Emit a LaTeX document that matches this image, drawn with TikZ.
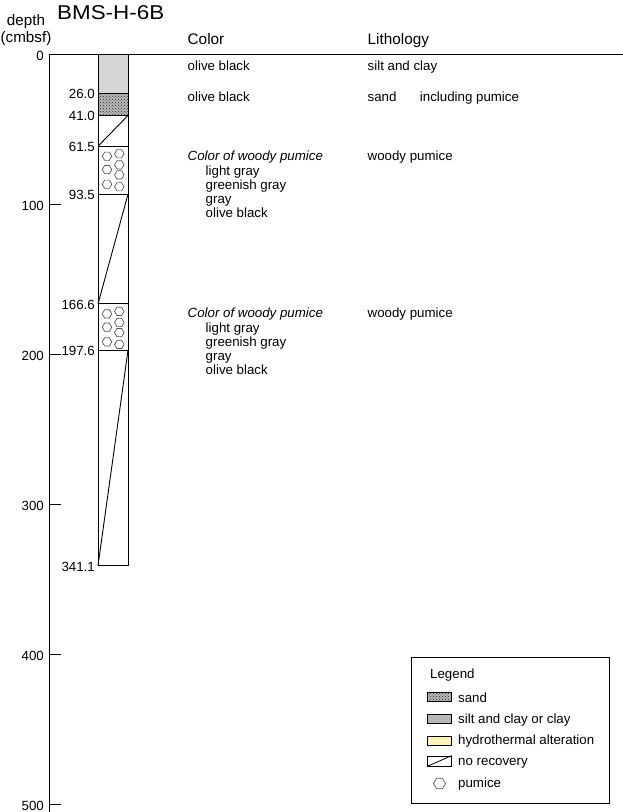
\documentclass[tikz,border=0pt]{standalone}
\usepackage{fontspec}
\setmainfont{Liberation Sans}
\usetikzlibrary{shapes.geometric,patterns,positioning}
\definecolor{siltgray}{RGB}{214,214,214}
\definecolor{sandgray}{RGB}{185,185,185}
\definecolor{hydroyellow}{RGB}{255,244,184}
\definecolor{pumgray}{RGB}{85,85,85}
\newcommand{\dy}[1]{54+1.5*#1}

\begin{document}
\begin{tikzpicture}[x=1pt, y=-1pt,
    txt/.style={inner sep=0pt, anchor=base west, font=\fontsize{13.3}{15}\selectfont},
    hdr/.style={inner sep=0pt, anchor=base west, font=\fontsize{15.3}{17}\selectfont},
    dlab/.style={inner sep=0pt, anchor=east, font=\fontsize{13.3}{15}\selectfont},
    pum/.style={regular polygon, regular polygon sides=6, draw=pumgray,
        line width=0.7pt, minimum size=9.5pt, inner sep=0pt},
    swatch/.style={draw, line width=0.8pt, minimum width=24pt,
        minimum height=9pt, inner sep=0pt, anchor=west},
    sandfill/.style={pattern=crosshatch dots, pattern color=black!85,
        preaction={fill=sandgray}},
]
\useasboundingbox (0,0) rectangle (623,812);

% title and axis caption
\node[inner sep=0pt, anchor=base west,
    font=\fontsize{20}{24}\selectfont\addfontfeatures{FakeStretch=1.12}] (title) at (57,19.5) {BMS-H-6B};
\node[inner sep=0pt, anchor=base, font=\fontsize{15.2}{17}\selectfont] (depthlab) at (26,25.5) {depth};
\node[inner sep=0pt, anchor=base, font=\fontsize{15.2}{17}\selectfont] (unitlab) at (26,42.5) {(cmbsf)};

% depth axis
\draw[line width=1pt] (49.5,54) -- (49.5,812);
\draw[line width=1pt] (49.5,54) -- (623,54);
\foreach \d in {100,200,...,500}
    \draw[line width=0.9pt] (49.5,{\dy{\d}}) -- (60.5,{\dy{\d}});
\foreach \d in {0,100,...,500}
    \node[dlab] (ax\d) at (44,{\dy{\d}+1.5}) {\d};

% column headers
\node[hdr] (colorhdr) at (187.5,44.3) {Color};
\node[hdr] (lithhdr) at (367.5,44.3) {Lithology};

% core column
\fill[siltgray] (98,{\dy{0}}) rectangle (128,{\dy{26}});
\path[sandfill] (98,{\dy{26}}) rectangle (128,{\dy{41}});
\draw[line width=0.9pt] (98,{\dy{61.5}}) -- (128,{\dy{41}});
\draw[line width=0.9pt] (98,{\dy{166.6}}) -- (128,{\dy{93.5}});
\draw[line width=0.9pt] (98,{\dy{341.1}}) -- (128,{\dy{197.6}});
\foreach \d in {26,41,61.5,93.5,166.6,197.6}
    \draw[line width=0.9pt] (98,{\dy{\d}}) -- (128,{\dy{\d}});
\draw[line width=0.9pt] (98,{\dy{0}}) rectangle (128,{\dy{341.1}});

% pumice
\foreach \t/\b in {61.5/a,166.6/b} {
    \foreach \o [count=\i] in {10,23.3,38}
        \node[pum] (pum\b L\i) at (107,{\dy{\t}+\o}) {};
    \foreach \o [count=\i] in {7.5,18.6,28.7,40.5}
        \node[pum] (pum\b R\i) at (119.3,{\dy{\t}+\o}) {};
}

% depth of boundaries
\foreach \d [count=\i] in {26.0,41.0,61.5,93.5,166.6,197.6,341.1}
    \node[dlab] (dep\i) at (95,{\dy{\d}+0.8}) {\d};

% color and lithology
\node[txt] (col1) at (187.5,70) {olive black};
\node[txt] (col2) at (187.5,101) {olive black};
\node[txt] (lith1) at (367.5,70) {silt and clay};
\node[txt] (lith2) at (367.5,101) {sand};
\node[txt, base right=23pt of lith2] (lith2b) {including pumice};

\foreach \y/\b in {160/a,317/b} {
    \node[txt, font=\fontsize{13.3}{15}\selectfont\itshape] (wp\b) at (187.5,\y) {Color of woody pumice};
    \node[txt] (wp\b1) at (205.5,{\y+15}) {light gray};
    \node[txt] (wp\b2) at (205.5,{\y+29}) {greenish gray};
    \node[txt] (wp\b3) at (205.5,{\y+43}) {gray};
    \node[txt] (wp\b4) at (205.5,{\y+57.5}) {olive black};
    \node[txt] (lithwp\b) at (367.5,\y) {woody pumice};
}

% legend
\node[draw, line width=0.9pt, minimum width=198pt, minimum height=146pt,
    anchor=north west, inner sep=0pt] (legend) at (411,657) {};
\node[txt] (legtitle) at (430,678) {Legend};
\node[swatch, sandfill] (swsand) at (427,697) {};
\node[swatch, fill=siltgray!85!black] (swsilt) at (427,719) {};
\node[swatch, fill=hydroyellow] (swhydro) at (427,740.5) {};
\node[swatch, minimum height=10pt] (swnorec) at (427,761) {};
\draw[line width=0.8pt] (swnorec.south west) -- (swnorec.north east);
\node[pum, minimum size=12pt] (swpum) at (439.5,783.5) {};
\node[txt] (legsand) at (458,702) {sand};
\node[txt] (legsilt) at (458,723) {silt and clay or clay};
\node[txt] (leghydro) at (458,744.5) {hydrothermal alteration};
\node[txt] (legnorec) at (458,765.5) {no recovery};
\node[txt] (legpum) at (458,787) {pumice};
\end{tikzpicture}
\end{document}
